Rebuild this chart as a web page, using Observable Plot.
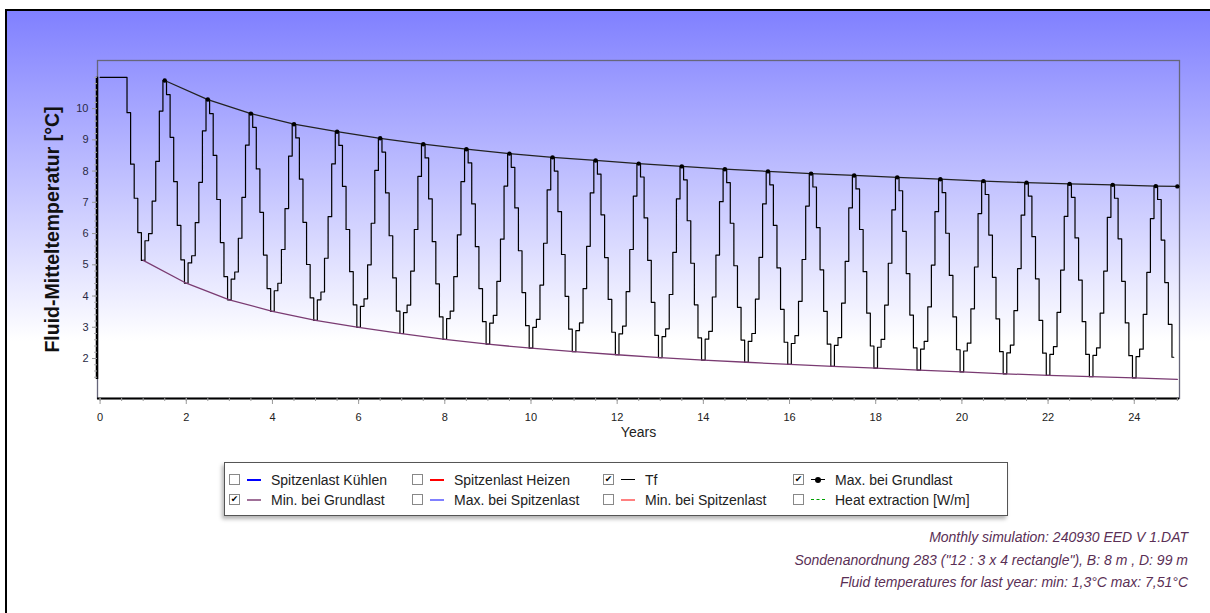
<!DOCTYPE html>
<html><head><meta charset="utf-8">
<script src="https://cdn.jsdelivr.net/npm/d3@7"></script>
<script src="https://cdn.jsdelivr.net/npm/@observablehq/plot@0.6"></script>
<style>
html,body{margin:0;padding:0;background:#fff;}
body{width:1210px;height:613px;position:relative;overflow:hidden;font-family:"Liberation Sans",Arial,Helvetica,sans-serif;}
#panel{position:absolute;left:5px;top:9px;width:1220px;height:620px;border-left:2px solid #000;border-top:2px solid #000;background:linear-gradient(to bottom,#8080ff 0px,#ffffff 330px,#ffffff 100%);}
#chart{position:absolute;left:0;top:0;}
#legend{position:absolute;left:224px;top:462px;width:782px;height:52px;border:1px solid #555;background:#fff;box-shadow:-2px 3px 4px rgba(0,0,0,0.3);}
.item{position:absolute;height:16px;font-size:14px;color:#222;white-space:nowrap;}
.cb{position:absolute;left:0;top:2px;width:9px;height:9px;border:1px solid #888;background:#fff;font-family:"DejaVu Sans",sans-serif;font-size:9px;line-height:9px;text-align:center;color:#000;}
.sw{position:absolute;left:18px;top:7px;width:14px;height:0;border-top:2px solid;}
.dotm{position:absolute;left:22px;top:5px;width:6px;height:6px;border-radius:3px;background:#000;}
.lbl{position:absolute;left:42px;top:0;line-height:16px;}
#caption{position:absolute;right:22px;top:526px;text-align:right;font-style:italic;font-size:14px;line-height:22.5px;color:#5a2f55;white-space:nowrap;}
</style></head><body>
<div id="panel"></div>
<div id="chart"></div>
<div id="legend"></div>
<div id="caption"></div>
<script>
// Monthly mean fluid temperature Tf [°C], one row per simulation year (12 months each)
const tfRows = [
  [11.00,11.00,11.00,11.00,11.00,11.00,11.00,11.00,9.87,8.22,7.13,6.03],
  [5.14,5.77,6.00,7.04,8.31,9.92,10.90,10.45,9.08,7.66,6.26,5.16],
  [4.41,5.06,5.29,6.35,7.64,9.29,10.29,9.84,8.50,7.09,5.71,4.62],
  [3.88,4.54,4.77,5.85,7.16,8.83,9.84,9.40,8.07,6.68,5.31,4.24],
  [3.51,4.17,4.41,5.49,6.80,8.48,9.50,9.06,7.74,6.36,5.01,3.94],
  [3.22,3.88,4.13,5.21,6.54,8.23,9.26,8.82,7.51,6.13,4.78,3.72],
  [3.00,3.67,3.91,5.00,6.33,8.02,9.05,8.61,7.30,5.93,4.58,3.52],
  [2.80,3.47,3.71,4.80,6.13,7.83,8.86,8.42,7.11,5.74,4.39,3.33],
  [2.61,3.28,3.52,4.62,5.96,7.66,8.70,8.26,6.95,5.58,4.24,3.18],
  [2.46,3.13,3.38,4.47,5.82,7.52,8.56,8.12,6.82,5.45,4.11,3.05],
  [2.33,3.00,3.25,4.35,5.69,7.40,8.44,8.00,6.70,5.33,3.99,2.94],
  [2.22,2.89,3.14,4.24,5.59,7.30,8.34,7.90,6.60,5.23,3.89,2.84],
  [2.12,2.79,3.04,4.14,5.49,7.20,8.24,7.81,6.50,5.14,3.80,2.74],
  [2.03,2.70,2.95,4.05,5.40,7.11,8.15,7.72,6.41,5.05,3.72,2.66],
  [1.95,2.62,2.87,3.97,5.31,7.02,8.06,7.63,6.33,4.97,3.64,2.59],
  [1.88,2.55,2.80,3.90,5.24,6.95,7.99,7.56,6.26,4.90,3.57,2.52],
  [1.81,2.48,2.73,3.83,5.17,6.88,7.92,7.49,6.19,4.84,3.51,2.46],
  [1.75,2.42,2.67,3.77,5.11,6.82,7.86,7.43,6.13,4.78,3.45,2.40],
  [1.69,2.36,2.61,3.71,5.05,6.76,7.80,7.37,6.07,4.72,3.39,2.34],
  [1.63,2.30,2.55,3.65,4.99,6.70,7.74,7.31,6.01,4.66,3.33,2.28],
  [1.57,2.24,2.49,3.59,4.93,6.64,7.68,7.25,5.95,4.60,3.27,2.22],
  [1.51,2.18,2.43,3.53,4.88,6.59,7.63,7.20,5.90,4.55,3.22,2.17],
  [1.46,2.13,2.38,3.48,4.83,6.55,7.59,7.16,5.86,4.51,3.18,2.13],
  [1.42,2.10,2.34,3.45,4.80,6.52,7.56,7.13,5.83,4.47,3.14,2.09],
  [1.38,2.06,2.30,3.41,4.76,6.48,7.52,7.09,5.79,4.43,3.09,2.04]
];
// Max. bei Grundlast
const maxYears  = [1.5,2.5,3.5,4.5,5.5,6.5,7.5,8.5,9.5,10.5,11.5,12.5,13.5,14.5,15.5,16.5,17.5,18.5,19.5,20.5,21.5,22.5,23.5,24.5,25];
const maxValues = [10.90,10.29,9.84,9.50,9.26,9.05,8.86,8.70,8.56,8.44,8.34,8.24,8.15,8.06,7.99,7.92,7.86,7.80,7.74,7.68,7.63,7.59,7.56,7.52,7.51];
// Min. bei Grundlast
const minYears  = [1,2,3,4,5,6,7,8,9,10,11,12,13,14,15,16,17,18,19,20,21,22,23,24,25];
const minValues = [5.14,4.41,3.88,3.51,3.22,3.00,2.80,2.61,2.46,2.33,2.22,2.12,2.03,1.95,1.88,1.81,1.75,1.69,1.63,1.57,1.51,1.46,1.42,1.38,1.33];

const xMajorTicks = [0,2,4,6,8,10,12,14,16,18,20,22,24];
const yMajorTicks = [2,3,4,5,6,7,8,9,10];
const xTitle = "Years";
const yTitle = "Fluid-Mitteltemperatur [°C]";

const legendLabels  = ["Spitzenlast Kühlen","Spitzenlast Heizen","Tf","Max. bei Grundlast","Min. bei Grundlast","Max. bei Spitzenlast","Min. bei Spitzenlast","Heat extraction [W/m]"];
const legendColors  = ["#0000ff","#ff0000","#000000","#000000","#a07098","#8080ff","#ff8080","#00a000"];
const legendChecked = [false,false,true,true,true,false,false,false];
const legendStyle   = ["solid","solid","solid","dot","solid","solid","solid","dashed"];

const captionLines = [
  "Monthly simulation: 240930 EED V 1.DAT",
  "Sondenanordnung 283 (\"12 : 3 x 4 rectangle\"), B: 8 m , D: 99 m",
  "Fluid temperatures for last year: min: 1,3°C max: 7,51°C"
];

const tf = tfRows.flatMap((row, n) => row.map((v, j) => ({t: (12 * n + j) / 12, v})));
const maxData = maxYears.map((t, i) => ({t, v: maxValues[i]}));
const minData = minYears.map((t, i) => ({t, v: minValues[i]}));
const yLo = d3.min(minValues), yHi = d3.max(tf, d => d.v);
const xMinor = d3.range(0, 25.01, 0.5);
const yMinor = d3.range(14, 111, 2).map(d => d / 10);
const xDom = [-0.06, 25.05], yDom = [0.72, 11.54];

const chart = Plot.plot({
  width: 1210, height: 460,
  marginLeft: 97, marginRight: 31, marginTop: 60, marginBottom: 62,
  style: {background: "transparent", fontFamily: "'Liberation Sans', Arial, sans-serif", overflow: "visible"},
  x: {domain: xDom},
  y: {domain: yDom},
  marks: [
    Plot.frame({stroke: "#66667a", strokeWidth: 1.3}),
    Plot.ruleY([{y: yDom[0]}], {y: "y", stroke: "#000", strokeWidth: 2.2}),
    Plot.ruleX([{x: xDom[0], y1: yLo, y2: yHi}], {x: "x", y1: "y1", y2: "y2", stroke: "#000", strokeWidth: 2.5, dx: -0.5}),
    Plot.axisX({ticks: xMinor, tickSize: 3, tickFormat: () => "", stroke: "#999", label: null}),
    Plot.axisX({ticks: xMajorTicks, tickSize: 6, tickPadding: 9, fontSize: 11, stroke: "#999", fill: "#222", label: null}),
    Plot.axisY({ticks: yMinor, tickSize: 3, tickFormat: () => "", stroke: "#aaa", label: null}),
    Plot.axisY({ticks: yMajorTicks, tickSize: 5, tickPadding: 4, fontSize: 11, stroke: "#999", fill: "#2a2a44", label: null}),
    Plot.text([xTitle], {frameAnchor: "bottom", dy: 38, fontSize: 14, fill: "#222"}),
    Plot.text([yTitle], {frameAnchor: "left", textAnchor: "middle", dx: -45, rotate: -90, fontSize: 19.5, fontWeight: "bold", fill: "#111"}),
    Plot.line(tf, {x: "t", y: "v", curve: "step", stroke: "#000", strokeWidth: 1.2}),
    Plot.line(minData, {x: "t", y: "v", stroke: "#7a3b72", strokeWidth: 1.3}),
    Plot.line(maxData, {x: "t", y: "v", stroke: "#222", strokeWidth: 1.3}),
    Plot.dot(maxData, {x: "t", y: "v", r: 2.2, fill: "#000"})
  ]
});
document.getElementById("chart").appendChild(chart);

// Legend
const legend = document.getElementById("legend");
const colX = [4, 187, 378, 568];
const rowY = [9, 29];
legendLabels.forEach((lab, i) => {
  const it = document.createElement("div");
  it.className = "item";
  it.style.left = colX[i % 4] + "px";
  it.style.top = rowY[Math.floor(i / 4)] + "px";
  const cb = document.createElement("div");
  cb.className = "cb";
  cb.textContent = legendChecked[i] ? "✔" : "";
  it.appendChild(cb);
  const sw = document.createElement("div");
  sw.className = "sw";
  sw.style.borderTopColor = legendColors[i];
  if (legendStyle[i] === "dashed") { sw.style.borderTopStyle = "dashed"; sw.style.borderTopWidth = "1.5px"; }
  if (legendColors[i] === "#000000") sw.style.borderTopWidth = "1.5px";
  it.appendChild(sw);
  if (legendStyle[i] === "dot") { const dm = document.createElement("div"); dm.className = "dotm"; it.appendChild(dm); }
  const lb = document.createElement("div");
  lb.className = "lbl";
  lb.textContent = lab;
  it.appendChild(lb);
  legend.appendChild(it);
});

const cap = document.getElementById("caption");
captionLines.forEach(t => { const d = document.createElement("div"); d.textContent = t; cap.appendChild(d); });
</script>
</body></html>
